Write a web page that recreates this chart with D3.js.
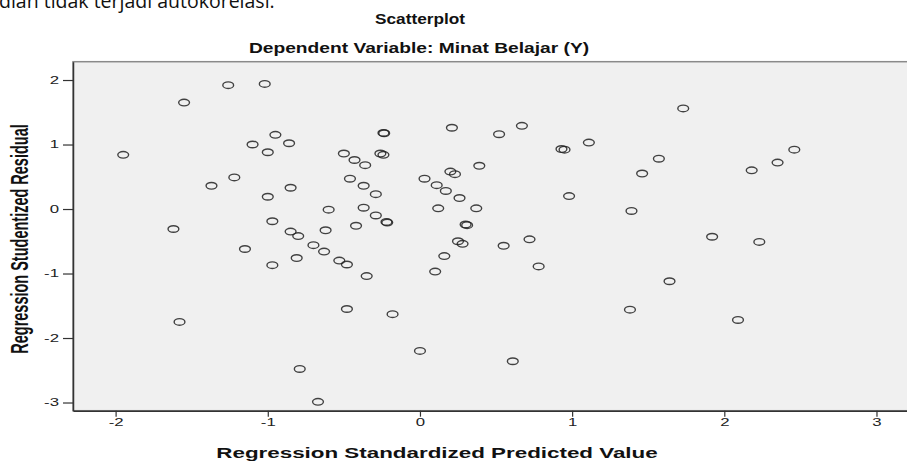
<!DOCTYPE html>
<html>
<head>
<meta charset="utf-8">
<script src="https://cdn.jsdelivr.net/npm/d3@7"></script>
<style>
  body { margin: 0; background: #fff; }
  svg { display: block; }
</style>
</head>
<body>
<div id="chart"></div>
<script>
// chart values
var predicted = [-1.26, -1.02, -1.55, -0.95, -1.10, -0.86, -1.00, -1.95, -0.50, -0.43,
  -0.36, -0.24, -0.235, -0.26, -0.24, -1.22, -1.37, -0.85, -1.00, -0.46,
  -0.37, -0.29, -0.60, -0.37, -0.29, -0.97, -1.62, -0.85, -0.80, -0.62,
  -0.42, 0.21, 0.52, 0.67, 0.93, 0.95, 1.11, 0.39, 0.20, 0.23,
  0.03, 0.11, 0.17, 0.26, 0.98, -0.22, -0.215, 0.12, 0.37, 0.30,
  0.31, 1.73, 1.57, 1.46, 2.46, 2.35, 2.18, 1.39, 1.92, 2.23,
  -1.15, -0.70, -0.63, -0.81, -0.97, -0.53, -0.48, -0.35, -0.48, -1.58,
  -0.79, -0.67, 0.25, 0.28, 0.16, 0.10, 0.55, 0.72, 0.78, -0.18,
  0.00, 0.61, 1.64, 1.38, 2.09]
var residual = [1.92, 1.94, 1.65, 1.15, 1.00, 1.02, 0.88, 0.84, 0.86, 0.76,
  0.68, 1.18, 1.175, 0.86, 0.84, 0.49, 0.36, 0.33, 0.19, 0.47,
  0.36, 0.23, -0.01, 0.02, -0.10, -0.19, -0.31, -0.35, -0.42, -0.33,
  -0.26, 1.26, 1.16, 1.29, 0.93, 0.92, 1.03, 0.67, 0.58, 0.54,
  0.47, 0.37, 0.28, 0.17, 0.20, -0.20, -0.21, 0.01, 0.01, -0.24,
  -0.25, 1.56, 0.78, 0.55, 0.92, 0.72, 0.60, -0.03, -0.43, -0.51,
  -0.62, -0.56, -0.66, -0.76, -0.87, -0.80, -0.86, -1.04, -1.55, -1.75,
  -2.48, -2.99, -0.50, -0.54, -0.73, -0.97, -0.57, -0.47, -0.89, -1.63,
  -2.20, -2.36, -1.12, -1.56, -1.72]
var xTicks = [-2, -1, 0, 1, 2, 3]
var yTicks = [-3, -2, -1, 0, 1, 2]

var width = 907, height = 464
var stretch = 1.6   // the picture was pasted wider than it was drawn

var svg = d3.select("#chart").append("svg")
  .attr("width", width)
  .attr("height", height)

var x = d3.scaleLinear().domain([-2.28, 3.24]).range([73, 913])
var y = d3.scaleLinear().domain([-3.127, 2.284]).range([410.7, 61.7])

// text cut off from the document above the chart
svg.append("text")
  .attr("x", -1).attr("y", 7.5)
  .style("font-family", "'Open Sans', sans-serif")
  .style("font-size", "19.5px")
  .style("fill", "#111")
  .text("dian tidak terjadi autokorelasi.")

// titles
function stretchedText(str, cx, cy, size, sx) {
  return svg.append("text")
    .attr("transform", "translate(" + cx + "," + cy + ") scale(" + sx + ",1)")
    .attr("text-anchor", "middle")
    .style("font-family", "Arial, 'Liberation Sans', sans-serif")
    .style("font-weight", "bold")
    .style("font-size", size + "px")
    .style("fill", "#111")
    .text(str)
}
stretchedText("Scatterplot", 420, 24, 15, 1.15)
stretchedText("Dependent Variable: Minat Belajar (Y)", 419, 53, 15, 1.28)
stretchedText("Regression Standardized Predicted Value", 437, 458, 14, stretch)

// plot background
svg.append("rect")
  .attr("x", x.range()[0]).attr("y", y.range()[1])
  .attr("width", x.range()[1] - x.range()[0])
  .attr("height", y.range()[0] - y.range()[1])
  .attr("fill", "#f0f0f0")
  .attr("stroke", "#8a8a8a")
  .attr("stroke-width", 1.5)

// points (hollow circles, squashed like the source)
svg.append("g")
  .selectAll("ellipse")
  .data(predicted.map(function (d, i) { return [d, residual[i]] }))
  .enter()
  .append("ellipse")
  .attr("cx", function (d) { return x(d[0]) })
  .attr("cy", function (d) { return y(d[1]) })
  .attr("rx", 5.4)
  .attr("ry", 3.3)
  .attr("fill", "none")
  .attr("stroke", "#222")
  .attr("stroke-width", 1.4)
  .attr("stroke-opacity", 0.85)

// axes, plain hyphen minus like the source
var fmt = function (d) { return String(d) }
var xAxis = svg.append("g")
  .attr("transform", "translate(0," + y.range()[0] + ")")
  .call(d3.axisBottom(x).tickValues(xTicks).tickSize(6).tickSizeOuter(0).tickPadding(2).tickFormat(fmt))
var yAxis = svg.append("g")
  .attr("transform", "translate(" + x.range()[0] + ",0)")
  .call(d3.axisLeft(y).tickValues(yTicks).tickSize(10).tickSizeOuter(0).tickPadding(2).tickFormat(fmt))

svg.selectAll(".domain").attr("stroke", "#333").attr("stroke-width", 1.5)
svg.selectAll(".tick line").attr("stroke", "#333").attr("stroke-width", 1.2)
svg.selectAll(".tick text")
  .style("font-family", "Arial, 'Liberation Sans', sans-serif")
  .style("font-size", "10.5px")
  .style("fill", "#222")
xAxis.selectAll(".tick text")
  .attr("transform", "scale(" + stretch + ",1)")
yAxis.selectAll(".tick text")
  .attr("transform", "scale(" + stretch + ",1)")
  .attr("x", -14 / stretch)

// y axis title, rotated
svg.append("text")
  .attr("transform", "translate(28,239) scale(" + stretch + ",1) rotate(-90)")
  .attr("text-anchor", "middle")
  .style("font-family", "Arial, 'Liberation Sans', sans-serif")
  .style("font-weight", "bold")
  .style("font-size", "14.5px")
  .style("fill", "#111")
  .text("Regression Studentized Residual")
</script>
</body>
</html>
